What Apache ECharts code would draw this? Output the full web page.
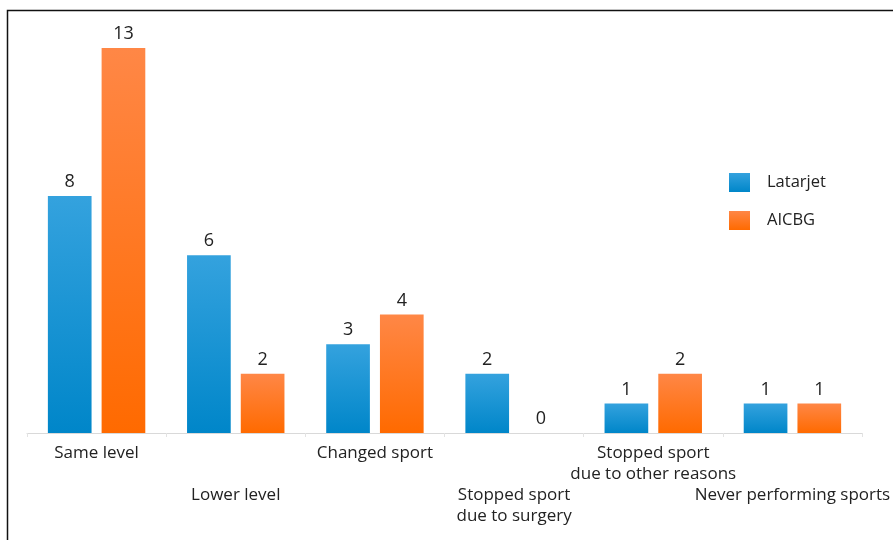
<!DOCTYPE html>
<html><head><meta charset="utf-8">
<script src="https://cdn.jsdelivr.net/npm/echarts@6/dist/echarts.min.js"></script>
<style>html,body{margin:0;padding:0;background:#fff}#c{width:893px;height:540px}</style>
</head><body><div id="c"></div>
<script>
const categories = ['Same level','Lower level','Changed sport','Stopped sport\ndue to surgery','Stopped sport\ndue to other reasons','Never performing sports'];
const latarjet = [8, 6, 3, 2, 1, 1];
const aicbg = [13, 2, 4, 0, 2, 1];
const seriesNames = ['Latarjet', 'AICBG'];

const chart = echarts.init(document.getElementById('c'));
const font = '"Open Sans", sans-serif';
function grad(top, bottom){
  return new echarts.graphic.LinearGradient(0,0,0,1,[{offset:0,color:top},{offset:1,color:bottom}]);
}
chart.setOption({
  animation:false,
  backgroundColor:'#fff',
  graphic:[{type:'rect',shape:{x:7.5,y:10.5,width:900,height:600},style:{fill:'none',stroke:'#111',lineWidth:1.5},z:100}],
  legend:{
    orient:'vertical', left:724, top:168, itemWidth:21, itemHeight:19, itemGap:19, icon:'rect',
    textStyle:{fontFamily:font,fontSize:16.5,color:'#222',padding:[0,0,0,12]},
    data:seriesNames
  },
  grid:{left:27,right:29,top:48,bottom:107},
  xAxis:{
    type:'category', data:categories,
    axisLine:{lineStyle:{color:'#d9d9d9',width:1}},
    axisTick:{show:true,length:4,lineStyle:{color:'#e3e3e3'}},
    axisLabel:{
      interval:0, margin:10, fontFamily:font, fontSize:17, color:'#222', lineHeight:21,
      formatter:function(v,i){ return (i%2===1 ? '\n\n' : '') + v; }
    }
  },
  yAxis:{type:'value',min:0,max:13,show:false,splitLine:{show:false}},
  series:[
    {name:seriesNames[0],type:'bar',data:latarjet,barGap:'23%',barCategoryGap:'30%',
     itemStyle:{color:grad('#34a2de','#0086c9')},
     label:{show:true,position:'top',distance:5,fontFamily:font,fontSize:18,color:'#222'}},
    {name:seriesNames[1],type:'bar',data:aicbg,
     itemStyle:{color:grad('#ff8746','#ff6a00')},
     label:{show:true,position:'top',distance:5,fontFamily:font,fontSize:18,color:'#222'}}
  ]
});
</script></body></html>
